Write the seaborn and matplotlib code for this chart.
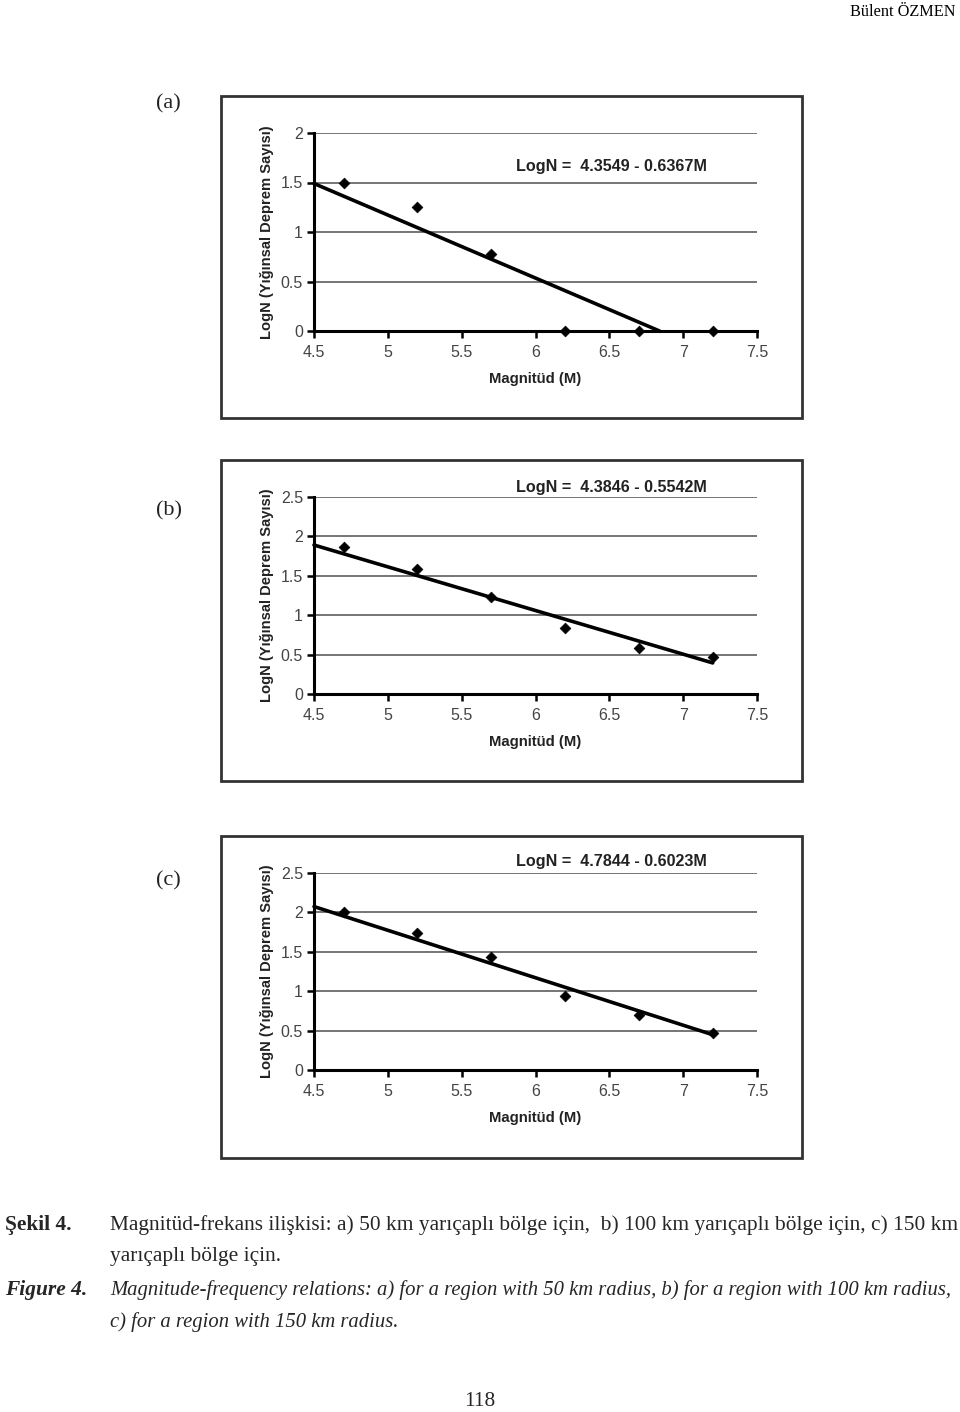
import matplotlib
matplotlib.use("Agg")
import matplotlib.pyplot as plt
import seaborn as sns
import pandas as pd
import numpy as np
from matplotlib.patches import Rectangle

# ---- data ----
magnitudes = [4.7, 5.2, 5.7, 6.2, 6.7, 7.2]
logn_a = [1.49, 1.25, 0.78, 0.0, 0.0, 0.0]
logn_b = [1.86, 1.59, 1.23, 0.84, 0.59, 0.47]
logn_c = [2.00, 1.74, 1.43, 0.94, 0.70, 0.47]

intercepts = [4.3549, 4.3846, 4.7844]
slopes = [0.6367, 0.5542, 0.6023]
fit_x_start = [4.5, 4.5, 4.5]
fit_x_end = [6.84, 7.2, 7.2]
y_max = [2.0, 2.5, 2.5]
y_ticks = [[0, 0.5, 1, 1.5, 2], [0, 0.5, 1, 1.5, 2, 2.5], [0, 0.5, 1, 1.5, 2, 2.5]]
y_ticklabels = [["0", "0.5", "1", "1.5", "2"],
                ["0", "0.5", "1", "1.5", "2", "2.5"],
                ["0", "0.5", "1", "1.5", "2", "2.5"]]
x_ticks = [4.5, 5, 5.5, 6, 6.5, 7, 7.5]
x_ticklabels = ["4.5", "5", "5.5", "6", "6.5", "7", "7.5"]
panel_labels = ["(a)", "(b)", "(c)"]
equations = ["LogN =  4.3549 - 0.6367M", "LogN =  4.3846 - 0.5542M", "LogN =  4.7844 - 0.6023M"]
x_label = "Magnitüd (M)"
y_label = "LogN (Yığınsal Deprem Sayısı)"
caption_tr = ["Magnitüd-frekans ilişkisi: a) 50 km yarıçaplı bölge için,  b) 100 km yarıçaplı bölge için, c) 150 km",
              "yarıçaplı bölge için."]
caption_en = ["Magnitude-frequency relations: a) for a region with 50 km radius, b) for a region with 100 km radius,",
              "c) for a region with 150 km radius."]

sns.set_theme(style="white")
plt.rcParams['font.family'] = ['Liberation Sans', 'DejaVu Sans']

W, H = 960, 1412
fig = plt.figure(figsize=(9.6, 14.12), dpi=100)
renderer = fig.canvas.get_renderer()

def fx(px):
    return px / W

def fy(py):
    return 1 - py / H

# layout (pixels)
plot_tops = [133, 497, 873]
plot_bots = [331, 694, 1070]
frame_tops = [96, 460, 836]
frame_bots = [418, 781, 1158]
eq_y = [166, 487, 862]
lab_y = [104, 511, 881]

series = [logn_a, logn_b, logn_c]
for i in range(3):
    fig.patches.append(Rectangle((fx(221), fy(frame_bots[i])), fx(802 - 221),
                                 (frame_bots[i] - frame_tops[i]) / H,
                                 transform=fig.transFigure, fill=False,
                                 edgecolor="#333333", linewidth=2.0))
    ax = fig.add_axes([fx(314), fy(plot_bots[i]), fx(757 - 314),
                       (plot_bots[i] - plot_tops[i]) / H])
    df = pd.DataFrame({"M": magnitudes, "LogN": series[i]})
    xs = [fit_x_start[i], fit_x_end[i]]
    fit_df = pd.DataFrame({"M": xs, "LogN": [intercepts[i] - slopes[i] * x for x in xs]})
    ax.set_xlim(4.5, 7.5)
    ax.set_ylim(0, y_max[i])
    for t in y_ticks[i][1:]:
        ax.axhline(t, color="#6a6a6a", linewidth=1.3, zorder=1)
    sns.lineplot(data=fit_df, x="M", y="LogN", ax=ax, color="black", linewidth=2.6,
                 zorder=3, clip_on=False)
    sns.scatterplot(data=df, x="M", y="LogN", ax=ax, marker="D", s=30, color="black",
                    edgecolor="black", linewidth=0.5, zorder=4, clip_on=False)
    ax.set_xticks(x_ticks)
    ax.set_xticklabels(x_ticklabels)
    ax.set_yticks(y_ticks[i])
    ax.set_yticklabels(y_ticklabels[i])
    for s in ["top", "right"]:
        ax.spines[s].set_visible(False)
    for s in ["left", "bottom"]:
        ax.spines[s].set_color("black")
        ax.spines[s].set_linewidth(2.2)
    ax.tick_params(axis="both", direction="out", length=5, width=1.8, color="black",
                   labelsize=11.5, labelcolor="#444444", pad=3, bottom=True, left=True)
    ax.tick_params(axis="x", pad=5)
    ax.set_xlabel(x_label, fontsize=10.7, fontweight="bold", color="#222222", labelpad=9)
    ax.set_ylabel(y_label, fontsize=10.6, fontweight="bold", color="#222222", labelpad=5)
    ax.patch.set_alpha(0)
    fig.text(fx(516), fy(eq_y[i]), equations[i], fontsize=11.6, fontweight="bold",
             color="#222222", ha="left", va="center")
    fig.text(fx(156), fy(lab_y[i]), panel_labels[i], fontsize=16,
             family=["Liberation Serif"], color="#222222", ha="left", va="center")

# header
fig.text(fx(955), fy(12), "Bülent ÖZMEN", fontsize=11.7, family=["Liberation Serif"],
         ha="right", va="center", color="black")

serif = ["Liberation Serif", "DejaVu Serif"]

def fitted_size(text, target_px, **kw):
    t = fig.text(0, 0, text, fontsize=10, **kw)
    w = t.get_window_extent(renderer=renderer).width
    t.remove()
    return 10 * target_px / w

tr_size = fitted_size(caption_tr[0], 957 - 110, family=serif)
en_size = fitted_size(caption_en[0], 955 - 110, family=serif, style="italic")

fig.text(fx(5), fy(1225), "Şekil 4.", fontsize=tr_size, fontweight="bold", family=serif,
         ha="left", va="center")
fig.text(fx(110), fy(1225), caption_tr[0], fontsize=tr_size, family=serif, ha="left", va="center")
fig.text(fx(110), fy(1256), caption_tr[1], fontsize=tr_size, family=serif, ha="left", va="center")
fig.text(fx(5), fy(1290), "Figure 4.", fontsize=tr_size, fontweight="bold", style="italic",
         family=serif, ha="left", va="center")
fig.text(fx(110), fy(1290), caption_en[0], fontsize=en_size, style="italic", family=serif,
         ha="left", va="center")
fig.text(fx(110), fy(1322), caption_en[1], fontsize=en_size, style="italic", family=serif,
         ha="left", va="center")
fig.text(fx(480), fy(1402), "118", fontsize=tr_size, family=serif, ha="center", va="center")

fig.savefig("out.png", dpi=100, facecolor="white")
